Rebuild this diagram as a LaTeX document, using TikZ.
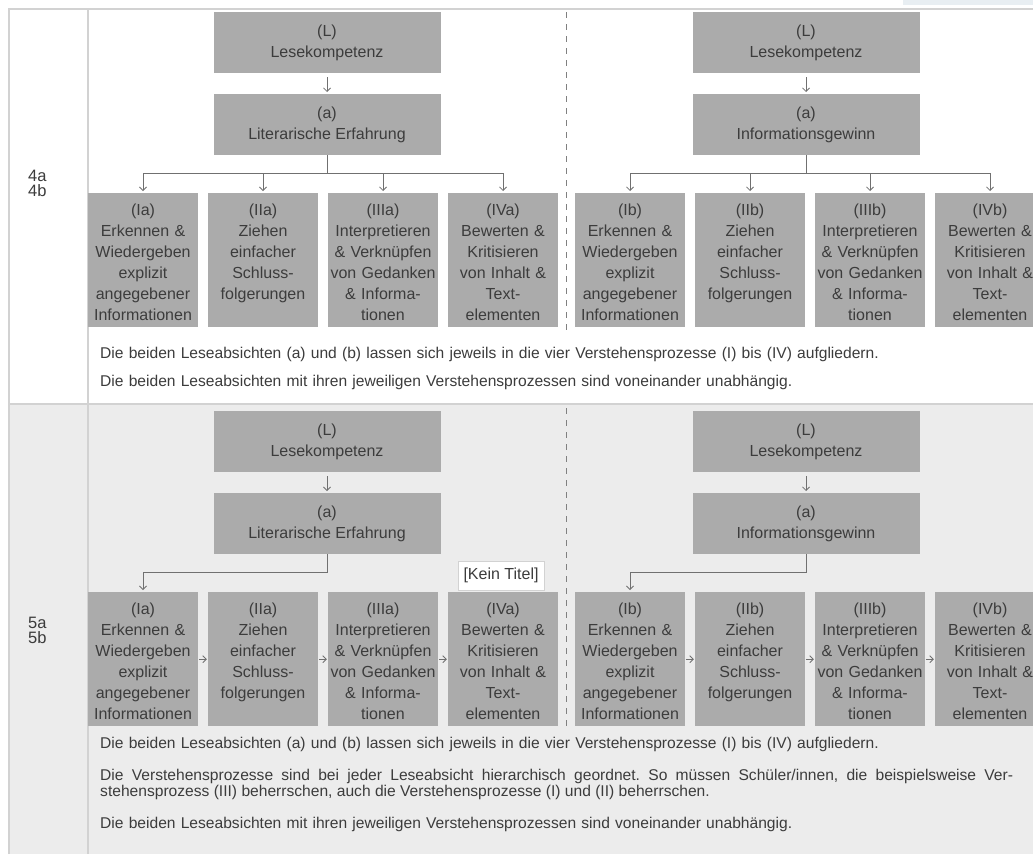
\documentclass[tikz,border=0pt]{standalone}
\usepackage{fontspec}
\setmainfont{Liberation Sans}
\usetikzlibrary{arrows.meta}
\definecolor{boxgray}{HTML}{ABABAB}
\definecolor{txtgray}{HTML}{3C3C3C}
\definecolor{linegray}{HTML}{707070}
\definecolor{rulegray}{HTML}{D2D2D2}
\definecolor{rowgray}{HTML}{ECECEC}
\definecolor{tipblue}{HTML}{E8EEF2}
\tikzset{
  headbox/.style={fill=boxgray, text=txtgray, anchor=north, minimum width=227pt,
    minimum height=61pt, align=center, inner sep=0pt, font=\fontsize{16}{21}\selectfont},
  procbox/.style={fill=boxgray, text=txtgray, anchor=north, text width=110pt, align=center,
    inner sep=0pt, text height=22pt, text depth=112pt, font=\fontsize{16}{21}\selectfont},
  link/.style={draw=linegray, line width=0.8pt},
  rule/.style={draw=rulegray, line width=1.5pt},
  divider/.style={draw=gray, line width=0.8pt, dash pattern=on 6pt off 6pt},
  note/.style={anchor=base west, text=txtgray, inner sep=0pt, text width=930pt,
    align=left, font=\fontsize{15.6}{16.5}\selectfont\frenchspacing},
  rowlabel/.style={anchor=base west, text=txtgray, inner sep=0pt, text width=40pt,
    align=left, font=\fontsize{16.5}{15}\selectfont},
  tooltip/.style={draw=rulegray, fill=white, text=txtgray, minimum width=86pt,
    minimum height=29pt, inner sep=0pt, font=\fontsize{16}{18}\selectfont},
}
\begin{document}
\begin{tikzpicture}[x=1pt, y=-1pt, >={Straight Barb[length=3.5pt,width=7pt]}]
    \useasboundingbox (0,0) rectangle (1033,854);
    % table
    \fill[white] (0,0) rectangle (1033,854);
    \fill[rowgray] (9,404) rectangle (1033,854);
    \fill[tipblue] (903,0) rectangle (1033,5);
    \draw[rule] (9,854) -- (9,9) -- (1033,9);
    \draw[rule] (88,9) -- (88,854);
    \draw[rule] (9,404) -- (1033,404);
    \foreach \y in {9,405} \draw[divider] (566,\y+3) -- (566,\y+326);
    \node[rowlabel] (r4) at (28,181) {4a\\4b};
    \node[rowlabel] (r5) at (28,628) {5a\\5b};
    % boxes
    \foreach \r/\dy in {4/0,5/399} {
        \foreach \s/\hx/\px/\head in {a/327/143/Literarische Erfahrung, b/806/630/Informationsgewinn} {
            \node[headbox] (L\r\s) at (\hx, 12+\dy) {(L)\\Lesekompetenz};
            \node[headbox] (H\r\s) at (\hx, 94+\dy) {(a)\\\head};
            \draw[link, ->, shorten <=4pt, shorten >=2pt] (L\r\s) -- (H\r\s);
            \foreach[count=\i] \txt in {{(I\s)\\Erkennen \&\\Wiedergeben\\explizit\\angegebener\\Informationen},
                {(II\s)\\Ziehen\\einfacher\\Schluss-\\folgerungen},
                {(III\s)\\Interpretieren\\\& Verknüpfen\\von Gedanken\\\& Informa-\\tionen},
                {(IV\s)\\Bewerten \&\\Kritisieren\\von Inhalt \&\\Text-\\elementen}} {
                \node[procbox] (P\r\s\i) at ({\px+120*(\i-1)}, 193+\dy) {\txt};
            }
        }
    }
    % row 4: all four processes below the intent
    \foreach \s/\hx in {a/327, b/806} {
        \coordinate (J4\s) at (\hx,173);
        \draw[link] (H4\s) -- (J4\s);
        \draw[link] (P4\s1 |- J4\s) -- (P4\s4 |- J4\s);
        \foreach \i in {1,...,4}
            \draw[link, ->, shorten >=2pt] (P4\s\i |- J4\s) -- (P4\s\i);
    }
    % row 5: processes in a chain
    \foreach \s/\hx in {a/327, b/806} {
        \coordinate (J5\s) at (\hx,572);
        \draw[link, ->, shorten >=2pt] (H5\s) -- (J5\s) -- (P5\s1 |- J5\s) -- (P5\s1);
        \foreach \i/\j in {1/2,2/3,3/4}
            \draw[link, ->, shorten <=1pt, shorten >=1pt] (P5\s\i) -- (P5\s\j);
    }
    % notes
    \node[note] (n4a) at (100,358) {Die beiden Leseabsichten (a) und (b) lassen sich jeweils in die vier Verstehensprozesse (I) bis (IV) aufgliedern.};
    \node[note] (n4b) at (100,386) {Die beiden Leseabsichten mit ihren jeweiligen Verstehensprozessen sind voneinander unabhängig.};
    \node[note] (n5a) at (100,748) {Die beiden Leseabsichten (a) und (b) lassen sich jeweils in die vier Verstehensprozesse (I) bis (IV) aufgliedern.};
    \node[note, text width=913pt, align=justify] (n5b) at (100,780) {Die Verstehensprozesse sind bei jeder Leseabsicht hierarchisch geordnet. So müssen Schüler/innen, die beispielsweise Ver-\linebreak stehensprozess (III) beherrschen, auch die Verstehensprozesse (I) und (II) beherrschen.};
    \node[note] (n5c) at (100,828) {Die beiden Leseabsichten mit ihren jeweiligen Verstehensprozessen sind voneinander unabhängig.};
    \node[tooltip] (tip) at (501,575.5) {[Kein Titel]};
\end{tikzpicture}
\end{document}
